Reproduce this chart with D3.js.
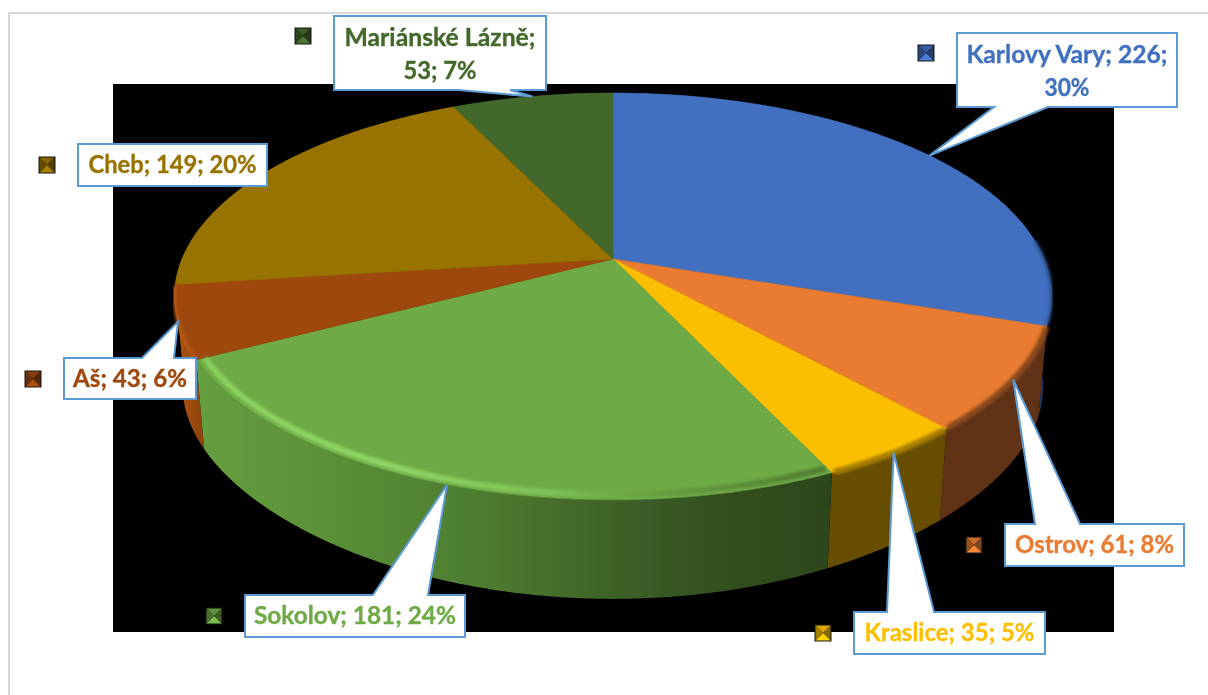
<!DOCTYPE html>
<html lang="cs">
<head>
<meta charset="utf-8">
<title>Pie</title>
<script src="https://cdn.jsdelivr.net/npm/d3@7"></script>
<style>
html,body{margin:0;padding:0;background:#fff;overflow:hidden}
svg{display:block}
text{font-family:Lato,"Open Sans",sans-serif;font-weight:700;text-anchor:middle}
</style>
</head>
<body>
<svg id="chart" width="1208" height="695"></svg>
<script>
// ---------- data ----------
const categories = ["Karlovy Vary","Ostrov","Kraslice","Sokolov","Aš","Cheb","Mariánské Lázně"];
const values = [226,61,35,181,43,149,53];
const colors = ["#4170C0","#E97C30","#FBBF00","#6EAB46","#9E480E","#997300","#43682B"];
const sideColors = [["#1F3864","#1F3864"],["#5F3115","#5F3115"],["#664D00","#664D00"],null,["#B5530F","#8A430D"],["#7F6000","#7F6000"],["#33501F","#33501F"]];
const rimColors = ["#2B4C85","#8A4A1C","#A67F00",null,"#BC5A12",null,null];

// ---------- callout layout: box [x0,y0,x1,y1], tail base [xa,xb], fields on first line, text widths per line ----------
const boxes = [[957,33,1177,107],[1005,524,1184,566],[854,612,1045,654],[245,595,465,637],[64,358,196,399],[78,144,267,186],[334,16,546,90]];
const tailBases = [[994,1048],[1035,1080],[887,934],[373,428],[142,174],null,[458,510]];
const firstLineFields = [2,3,3,3,3,3,1];
const lineWidths = [[201,45],[159],[170],[202],[114],[168],[191,73]];

// ---------- projection ----------
const cx=613, cy=259;
const topFace = (a,r=1)=>{const t=-r*Math.cos(a),s=r*Math.sin(a),d=1-0.184*t;return [cx+431*s/d, cy+196.5*t/d];};
const botFace = a=>{const t=-Math.cos(a),s=Math.sin(a);return [cx+0.981*431*s/(1-0.184*t), cy+94+179*t/(1-0.272*t)];};
const arcSamples=(a0,a1)=>{const n=Math.max(2,Math.ceil((a1-a0)/0.01));return d3.range(n+1).map(i=>a0+(a1-a0)*i/n);};

const line=d3.line();
const svg=d3.select("#chart");
const defs=svg.append("defs");

defs.append("filter").attr("id","soft").attr("x","-5%").attr("y","-5%").attr("width","110%").attr("height","110%")
  .append("feGaussianBlur").attr("stdDeviation",1.6);
defs.append("filter").attr("id","aa").append("feGaussianBlur").attr("stdDeviation",0.45);
defs.append("filter").attr("id","txt").attr("x","-5%").attr("y","-20%").attr("width","110%").attr("height","140%")
  .append("feGaussianBlur").attr("stdDeviation",0.3);

const grad=(id,x1,x2,stops)=>{
  const g=defs.append("linearGradient").attr("id",id).attr("gradientUnits","userSpaceOnUse")
    .attr("x1",x1).attr("x2",x2).attr("y1",0).attr("y2",0);
  stops.forEach(s=>g.append("stop").attr("offset",s[0]).attr("stop-color",s[1]));
};
grad("greenSide",204,835,[[0,"#659E3F"],[0.25,"#578C36"],[0.45,"#4C7B2E"],[0.62,"#41652A"],[0.8,"#33511F"],[1,"#2C451B"]]);
grad("greenRim",198,835,[[0,"#8AD060"],[0.3,"#90D666"],[0.55,"#80C257"],[0.72,"#669E40"],[1,"#4F7A30"]]);

// ---------- frame and plot background ----------
svg.append("rect").attr("x",8).attr("y",12).attr("width",1200).attr("height",2).attr("fill","#D9D9D9");
svg.append("rect").attr("x",8).attr("y",12).attr("width",2).attr("height",683).attr("fill","#D9D9D9");
svg.append("rect").attr("x",113).attr("y",84).attr("width",1001).attr("height",548).attr("fill","#000");

// ---------- slices ----------
const total=d3.sum(values);
const pie=d3.pie().sort(null)(values);

// side walls, back to front
const sideOrder=[5,6,0,4,1,2,3];
const sides=svg.append("g");
sideOrder.forEach(i=>{
  const p=pie[i], a=arcSamples(p.startAngle,p.endAngle);
  const pts=a.map(v=>topFace(v)).concat(a.slice().reverse().map(botFace));
  let fill;
  if(i===3) fill="url(#greenSide)";
  else { grad("side"+i,d3.min(pts,q=>q[0]),d3.max(pts,q=>q[0]),[[0,sideColors[i][0]],[1,sideColors[i][1]]]); fill=`url(#side${i})`; }
  sides.append("path").attr("d",line(pts)+"Z").attr("fill",fill).attr("filter","url(#aa)");
});

// top faces
const tops=svg.append("g");
pie.forEach((p,i)=>{
  const pts=[[cx,cy]].concat(arcSamples(p.startAngle,p.endAngle).map(v=>topFace(v)));
  tops.append("path").attr("d",line(pts)+"Z").attr("fill",colors[i]).attr("stroke",colors[i]).attr("stroke-width",0.6);
});

// rim bevel: only on the part of the rim that faces the viewer
const rims=svg.append("g");
const rimStart=Math.PI*0.47, rimEnd=Math.PI*1.5;
pie.forEach((p,i)=>{
  if(!rimColors[i] && i!==3) return;
  const a=arcSamples(Math.max(p.startAngle+0.004,rimStart),Math.min(p.endAngle-0.004,rimEnd));
  if(i===3){
    rims.append("path").attr("d",line(a.map(v=>topFace(v,0.982)))).attr("fill","none")
      .attr("stroke","url(#greenRim)").attr("stroke-width",6).attr("filter","url(#soft)");
  } else {
    rims.append("path").attr("d",line(a.map(v=>topFace(v,1)))).attr("fill","none")
      .attr("stroke",rimColors[i]).attr("stroke-width",i===1||i===2?6:3).attr("filter","url(#soft)");
  }
});

// ---------- callouts ----------
const labels=svg.append("g");
pie.forEach((p,i)=>{
  const [x0,y0,x1,y1]=boxes[i];
  const mid=(p.startAngle+p.endAngle)/2;
  const tip=topFace(mid);
  const base=tailBases[i];
  let pts;
  if(!base) pts=[[x0,y0],[x1,y0],[x1,y1],[x0,y1]];
  else if(tip[1]>y1) pts=[[x0,y0],[x1,y0],[x1,y1],[base[1],y1],tip,[base[0],y1],[x0,y1]];
  else pts=[[x0,y0],[base[0],y0],tip,[base[1],y0],[x1,y0],[x1,y1],[x0,y1]];
  labels.append("path").attr("d",line(pts)+"Z").attr("fill","#fff").attr("stroke","#5B9BD5").attr("stroke-width",2).attr("stroke-linejoin","miter");

  const pct=Math.round(values[i]/total*100)+"%";
  const fields=[categories[i]+";",values[i]+";",pct];
  const n=firstLineFields[i];
  const textLines=n<3?[fields.slice(0,n).join(" "),fields.slice(n).join(" ")]:[fields.join(" ")];
  const xc=(x0+x1)/2;
  textLines.forEach((s,j)=>{
    labels.append("text").attr("x",xc).attr("y",y0+(n<3?30:29)+j*32.5)
      .attr("font-size",24.5).attr("fill",colors[i]).attr("stroke",colors[i]).attr("stroke-width",0.35)
      .attr("filter","url(#txt)")
      .attr("textLength",lineWidths[i][j]).attr("lengthAdjust","spacingAndGlyphs").text(s);
  });

  // legend key: a small bevelled pyramid
  const kx=x0-39.5, ky=y0+(n<3?20:21)-8.5, kw=17, kh=17;
  const key=labels.append("g").attr("filter","url(#aa)");
  const c=d3.color(colors[i]);
  const mx=kx+kw/2,my=ky+kh/2;
  key.append("rect").attr("x",kx).attr("y",ky).attr("width",kw).attr("height",kh).attr("fill","#111");
  const k=1;
  const corners=[[kx+k,ky+k],[kx+kw-k,ky+k],[kx+kw-k,ky+kh-k],[kx+k,ky+kh-k]];
  [[0,1,c.darker(0.4)],[1,2,c.darker(1.7)],[2,3,c.brighter(0.3)],[3,0,c.darker(1.2)]].forEach(f=>{
    key.append("path").attr("d",line([corners[f[0]],corners[f[1]],[mx,my]])+"Z").attr("fill",f[2].formatHex());
  });
});
</script>
</body>
</html>
